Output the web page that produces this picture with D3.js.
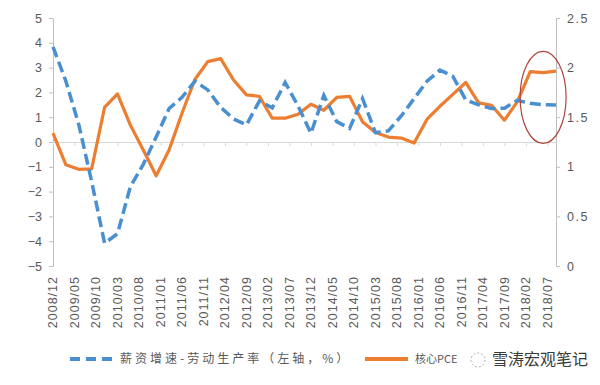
<!DOCTYPE html>
<html>
<head>
<meta charset="utf-8">
<script src="https://cdn.jsdelivr.net/npm/d3@7"></script>
<style>
  body { margin: 0; background: #fff; }
  svg { font-family: "Liberation Sans", Arial, sans-serif; }
</style>
</head>
<body>
<div class="chart"></div>
<script>
// quarterly observations
const quarters = ["2008/12","2009/03","2009/06","2009/09","2009/12","2010/03","2010/06","2010/09",
  "2010/12","2011/03","2011/06","2011/09","2011/12","2012/03","2012/06","2012/09",
  "2012/12","2013/03","2013/06","2013/09","2013/12","2014/03","2014/06","2014/09",
  "2014/12","2015/03","2015/06","2015/09","2015/12","2016/03","2016/06","2016/09",
  "2016/12","2017/03","2017/06","2017/09","2017/12","2018/03","2018/06","2018/09"];

// 薪资增速-劳动生产率 (left axis, %)
const wageGap = [3.84, 2.45, 0.7, -1.6, -4.08, -3.7, -1.8, -0.9,
  0.2, 1.35, 1.8, 2.45, 2.1, 1.4, 0.93, 0.69,
  1.65, 1.38, 2.4, 1.45, 0.35, 1.88, 0.82, 0.55,
  1.75, 0.38, 0.45, 1.05, 1.75, 2.45, 2.9, 2.65,
  1.7, 1.5, 1.35, 1.36, 1.68, 1.56, 1.5, 1.49];

// 核心PCE (right axis, %)
const corePCE = [1.34, 1.02, 0.975, 0.98, 1.6, 1.735, 1.42, 1.17,
  0.91, 1.17, 1.54, 1.88, 2.06, 2.09, 1.875, 1.725,
  1.71, 1.49, 1.49, 1.53, 1.63, 1.57, 1.7, 1.71,
  1.455, 1.345, 1.3, 1.29, 1.24, 1.48, 1.61, 1.73,
  1.85, 1.645, 1.62, 1.47, 1.655, 1.96, 1.95, 1.965];

const tickLabels = ["2008/12","2009/05","2009/10","2010/03","2010/08","2011/01","2011/06","2011/11",
  "2012/04","2012/09","2013/02","2013/07","2013/12","2014/05","2014/10","2015/03",
  "2015/08","2016/01","2016/06","2016/11","2017/04","2017/09","2018/02","2018/07"];
const leftTicks = [-5, -4, -3, -2, -1, 0, 1, 2, 3, 4, 5];
const rightTicks = [0, 0.5, 1, 1.5, 2, 2.5];

const width = 600, height = 385;
const plotLeft = 53, plotRight = 556, plotTop = 18, plotBottom = 266;

// monthly category axis, 2008/12 .. 2018/09
const fmt = d3.utcFormat("%Y/%m");
const months = d3.utcMonth.range(new Date(Date.UTC(2008, 11, 1)), new Date(Date.UTC(2018, 9, 1))).map(fmt);

const x = d3.scalePoint().domain(months).range([plotLeft, plotRight]);
const yL = d3.scaleLinear().domain([-5, 5]).range([plotBottom, plotTop]);
const yR = d3.scaleLinear().domain([0, 2.5]).range([plotBottom, plotTop]);

const svg = d3.select(".chart").append("svg")
  .attr("width", width)
  .attr("height", height);

// left axis
const gl = svg.append("g")
  .attr("transform", `translate(${plotLeft},0)`)
  .call(d3.axisLeft(yL).tickValues(leftTicks).tickSize(4).tickSizeOuter(0).tickPadding(7).tickFormat(d3.format("d")));
gl.select(".domain").attr("stroke", "#bfbfbf");
gl.selectAll(".tick line").attr("stroke", "#bfbfbf");
gl.selectAll("text").attr("fill", "#595959").attr("font-size", 12.5);

// right axis
const gr = svg.append("g")
  .attr("transform", `translate(${plotRight},0)`)
  .call(d3.axisRight(yR).tickValues(rightTicks).tickSize(4).tickSizeOuter(0).tickPadding(7).tickFormat(d => String(d)));
gr.select(".domain").attr("stroke", "#bfbfbf");
gr.selectAll(".tick line").attr("stroke", "#bfbfbf");
gr.selectAll("text").attr("fill", "#595959").attr("font-size", 12.5).attr("letter-spacing", "1.5px");

// category axis on the zero line
const gx = svg.append("g")
  .attr("transform", `translate(0,${yL(0)})`)
  .call(d3.axisBottom(x).tickValues(tickLabels).tickSize(4).tickSizeOuter(0).tickFormat(""));
gx.select(".domain").attr("stroke", "#d9d9d9");
gx.selectAll(".tick line").attr("stroke", "#d9d9d9");

// category labels at the bottom
svg.append("g")
  .attr("font-size", 12.5)
  .attr("fill", "#595959")
  .attr("text-anchor", "end")
  .selectAll("text")
  .data(tickLabels)
  .join("text")
  .attr("transform", d => `translate(${x(d)},276) rotate(-90)`)
  .attr("dy", "0.35em")
  .attr("letter-spacing", "1px")
  .text(d => d);

// series
const lineL = d3.line().x((d, i) => x(quarters[i])).y(d => yL(d));
const lineR = d3.line().x((d, i) => x(quarters[i])).y(d => yR(d));

svg.append("path")
  .datum(corePCE)
  .attr("fill", "none")
  .attr("stroke", "#ed7d31")
  .attr("stroke-width", 3.2)
  .attr("stroke-linejoin", "round")
  .attr("d", lineR);

svg.append("path")
  .datum(wageGap)
  .attr("fill", "none")
  .attr("stroke", "#4a90d0")
  .attr("stroke-width", 3.5)
  .attr("stroke-dasharray", "11,5")
  .attr("d", lineL);

// highlight ellipse round the last quarters
svg.append("ellipse")
  .attr("cx", x("2018/06"))
  .attr("cy", yR(1.7))
  .attr("rx", 23)
  .attr("ry", 46)
  .attr("fill", "none")
  .attr("stroke", "#b0443e")
  .attr("stroke-width", 1.2);

// legend
const lg = svg.append("g").attr("transform", "translate(0,359)");
lg.append("line")
  .attr("x1", 70).attr("x2", 112)
  .attr("stroke", "#4a90d0").attr("stroke-width", 4)
  .attr("stroke-dasharray", "10,6");
lg.append("text")
  .attr("x", 120).attr("dy", "0.35em")
  .attr("font-family", "'Noto Sans CJK SC', sans-serif")
  .attr("font-size", 12).attr("letter-spacing", "3px")
  .attr("fill", "#595959")
  .text("薪资增速-劳动生产率（左轴，%）");
lg.append("line")
  .attr("x1", 365).attr("x2", 408)
  .attr("stroke", "#ed7d31").attr("stroke-width", 4);
lg.append("text")
  .attr("x", 415).attr("dy", "0.35em")
  .attr("font-family", "'Noto Sans CJK SC', sans-serif")
  .attr("font-size", 11)
  .attr("fill", "#595959")
  .text("核心PCE（右轴，%）");

// watermark laid over the end of the legend, as in the source image
lg.append("rect")
  .attr("x", 462).attr("y", -12).attr("width", 138).attr("height", 24)
  .attr("fill", "#fff");
lg.append("circle")
  .attr("cx", 478).attr("cy", 1).attr("r", 7)
  .attr("fill", "none").attr("stroke", "#b0b0b0")
  .attr("stroke-dasharray", "2,2");
lg.append("text")
  .attr("x", 492).attr("dy", "0.35em")
  .attr("font-family", "'Noto Sans CJK SC', sans-serif")
  .attr("font-size", 16)
  .attr("fill", "#3a3a3a")
  .text("雪涛宏观笔记");
</script>
</body>
</html>
